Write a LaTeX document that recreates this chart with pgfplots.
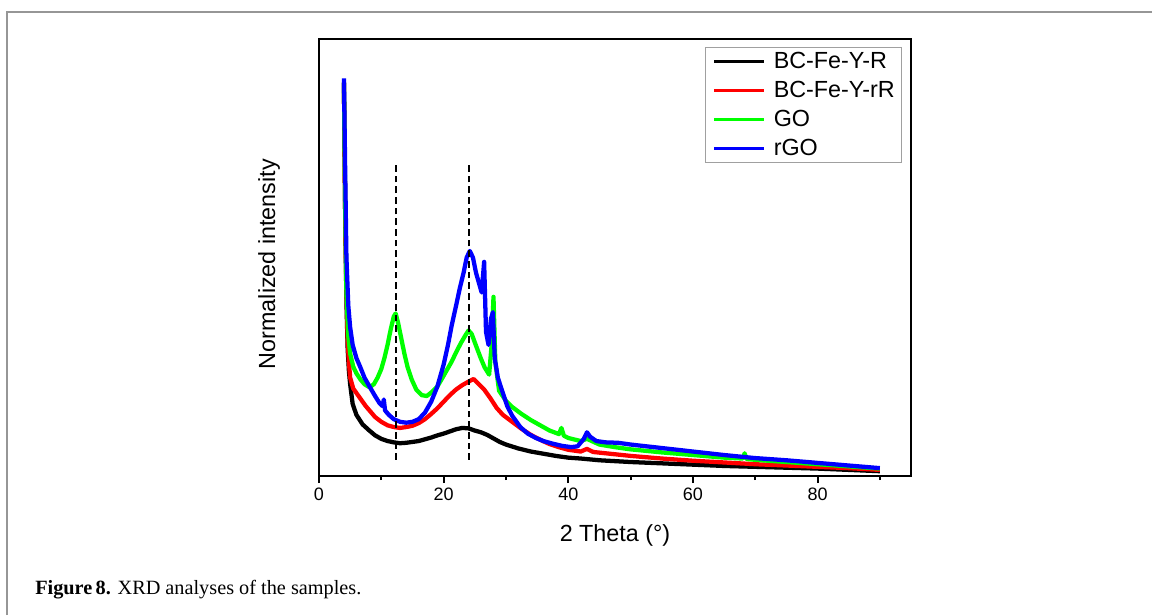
\documentclass[border=0pt]{standalone}
\usepackage{fontspec}
\setmainfont{Liberation Sans}
\newfontfamily\capfont{Liberation Serif}
\usepackage{pgfplots}
\pgfplotsset{compat=1.18}
\definecolor{cRed}{RGB}{255,0,0}
\definecolor{cGreen}{RGB}{0,255,0}
\definecolor{cBlue}{RGB}{0,0,255}
\definecolor{frameGray}{RGB}{150,150,150}
\definecolor{legGray}{RGB}{160,160,160}
\begin{document}
\begin{tikzpicture}
\useasboundingbox (0pt,0pt) rectangle (864pt,461.25pt);
\draw[frameGray, line width=1.5pt] (5.25pt,0pt) -- (5.25pt,452.25pt) -- (864pt,452.25pt);
\node[anchor=base west, inner sep=0pt, font=\capfont\fontsize{15.2}{17}\selectfont] at (26.25pt,15.75pt) {\textbf{Figure\,8.} XRD analyses of the samples.};
\begin{axis}[
  at={(239.25pt,104.25pt)}, anchor=south west,
  scale only axis, width=444pt, height=327.75pt,
  xmin=0, xmax=95, ymin=0, ymax=1,
  axis line style={line width=1.8pt},
  xtick={0,20,40,60,80},
  minor xtick={10,30,50,70,90},
  ytick=\empty,
  xtick pos=bottom, tick align=outside,
  major tick length=5.25pt, minor tick length=3pt,
  every tick/.style={black, line width=1.5pt},
  tick label style={font=\fontsize{13.5}{16}\selectfont},
  /pgf/number format/assume math mode=true,
  xlabel={2 Theta (°)},
  ylabel={Normalized intensity},
  label style={font=\fontsize{17.5}{20}\selectfont},
  xlabel style={at={(axis description cs:0.5,-0.137)}, anchor=center},
  ylabel style={at={(axis description cs:-0.0845,0.485)}, anchor=center},
  legend style={at={(axis description cs:1,1)}, anchor=north east, xshift=-6.75pt, yshift=-6pt,
    draw=legGray, line width=0.8pt, inner xsep=5pt, inner ysep=2.5pt,
    font=\fontsize{17.5}{20}\selectfont, row sep=5.75pt, column sep=6pt,
    nodes={inner sep=0pt, text height=13pt, text depth=3pt}},
  legend cell align=left,
  legend image code/.code={\draw[#1, line width=2.4pt] (0pt,0pt) -- (37.5pt,0pt);},
  every axis plot/.append style={line width=3.2pt, line join=round},
]
\addplot[black] coordinates {
(4.0,0.90)(4.2,0.60)(4.4,0.40)(4.6,0.29)(4.8,0.24)(5.0,0.21)(5.4,0.165)(6.0,0.14)(7.0,0.118)(8.0,0.105)
(9.0,0.093)(10.0,0.085)(11.0,0.080)(12.0,0.077)(13.0,0.075)(14.0,0.076)(15.0,0.078)(16.0,0.080)(17.0,0.084)
(18.0,0.088)(19.0,0.093)(20.0,0.097)(21.0,0.102)(22.0,0.107)(23.0,0.110)(24.0,0.109)(25.0,0.104)(26.0,0.100)
(27.0,0.094)(28.0,0.086)(29.0,0.078)(30.0,0.072)(32.0,0.063)(34.0,0.056)(36.0,0.051)(38.0,0.046)(40.0,0.042)
(42.0,0.040)(45.0,0.036)(50.0,0.032)(55.0,0.029)(60.0,0.026)(65.0,0.023)(70.0,0.021)(75.0,0.019)(80.0,0.017)
(85.0,0.014)(90.0,0.011)};
\addlegendentry{BC-Fe-Y-R}
\addplot[cRed] coordinates {
(4.0,0.90)(4.2,0.60)(4.4,0.42)(4.6,0.31)(4.8,0.26)(5.0,0.225)(5.5,0.20)(6.0,0.19)(6.6,0.178)(7.5,0.16)
(8.1,0.15)(9.0,0.135)(10.0,0.124)(11.0,0.116)(12.0,0.112)(13.0,0.110)(14.0,0.112)(15.0,0.115)(16.0,0.121)
(17.0,0.130)(18.0,0.142)(19.0,0.155)(20.0,0.170)(21.0,0.185)(22.0,0.198)(23.0,0.208)(24.0,0.216)(24.8,0.222)
(25.5,0.212)(26.5,0.198)(27.5,0.178)(28.5,0.156)(29.5,0.140)(31.0,0.124)(32.5,0.108)(34.0,0.094)(35.5,0.083)
(37.0,0.073)(38.5,0.066)(40.0,0.060)(42.0,0.056)(43.0,0.062)(44.0,0.055)(46.0,0.052)(50.0,0.046)(55.0,0.040)
(60.0,0.035)(65.0,0.031)(70.0,0.027)(75.0,0.024)(80.0,0.021)(85.0,0.018)(90.0,0.014)};
\addlegendentry{BC-Fe-Y-rR}
\addplot[cGreen] coordinates {
(4.0,0.90)(4.2,0.62)(4.4,0.42)(4.7,0.32)(5.0,0.28)(5.5,0.25)(6.0,0.235)(6.6,0.222)(7.3,0.21)(8.1,0.203)
(8.8,0.21)(9.4,0.225)(10.0,0.245)(10.5,0.27)(11.0,0.30)(11.5,0.335)(12.0,0.365)(12.3,0.372)(12.7,0.35)
(13.2,0.315)(13.7,0.28)(14.2,0.25)(14.9,0.22)(15.6,0.198)(16.5,0.185)(17.3,0.183)(18.1,0.192)(19.0,0.205)
(19.7,0.222)(20.5,0.242)(21.3,0.262)(22.0,0.283)(22.8,0.305)(23.5,0.322)(24.0,0.333)(24.5,0.325)(25.2,0.298)
(26.0,0.268)(26.6,0.248)(27.3,0.232)(27.7,0.30)(28.0,0.41)(28.3,0.26)(28.9,0.195)(30.0,0.172)(31.0,0.158)
(32.5,0.142)(34.0,0.128)(35.5,0.116)(37.0,0.104)(38.5,0.096)(38.9,0.11)(39.3,0.092)(40.0,0.087)(42.0,0.080)
(43.0,0.085)(45.0,0.072)(47.5,0.066)(50.0,0.061)(55.0,0.054)(60.0,0.048)(65.0,0.042)(68.0,0.040)(68.3,0.052)
(68.6,0.039)(70.0,0.037)(75.0,0.032)(80.0,0.027)(85.0,0.022)(90.0,0.017)};
\addlegendentry{GO}
\addplot[cBlue] coordinates {
(4.0,0.91)(4.2,0.70)(4.4,0.50)(4.7,0.39)(5.0,0.34)(5.4,0.30)(6.0,0.27)(6.6,0.25)(7.3,0.225)(8.1,0.205)
(9.0,0.183)(9.7,0.167)(10.2,0.16)(10.4,0.175)(10.6,0.15)(11.2,0.14)(12.0,0.130)(13.0,0.124)(14.0,0.122)
(15.0,0.124)(16.0,0.130)(17.0,0.145)(18.0,0.170)(19.0,0.205)(20.0,0.255)(20.7,0.30)(21.3,0.345)(22.0,0.39)
(22.6,0.43)(23.2,0.465)(23.7,0.50)(24.2,0.515)(24.7,0.50)(25.2,0.465)(25.7,0.44)(26.1,0.42)(26.5,0.49)
(26.8,0.33)(27.2,0.30)(27.6,0.36)(27.9,0.375)(28.2,0.27)(28.7,0.225)(29.5,0.19)(30.2,0.16)(31.0,0.138)
(32.3,0.112)(33.5,0.097)(34.8,0.087)(36.0,0.080)(37.5,0.074)(39.0,0.069)(40.5,0.066)(41.5,0.068)(42.5,0.085)
(43.0,0.100)(43.5,0.090)(44.5,0.080)(46.0,0.077)(48.0,0.076)(50.0,0.072)(55.0,0.064)(60.0,0.056)(65.0,0.048)
(70.0,0.041)(75.0,0.036)(80.0,0.030)(85.0,0.024)(90.0,0.018)};
\addlegendentry{rGO}
\addplot[black, line width=1.4pt, dash pattern=on 5pt off 3pt, forget plot] coordinates {(12.4,0.037)(12.4,0.718)};
\addplot[black, line width=1.4pt, dash pattern=on 5pt off 3pt, forget plot] coordinates {(24.1,0.037)(24.1,0.718)};
\end{axis}
\end{tikzpicture}
\end{document}
